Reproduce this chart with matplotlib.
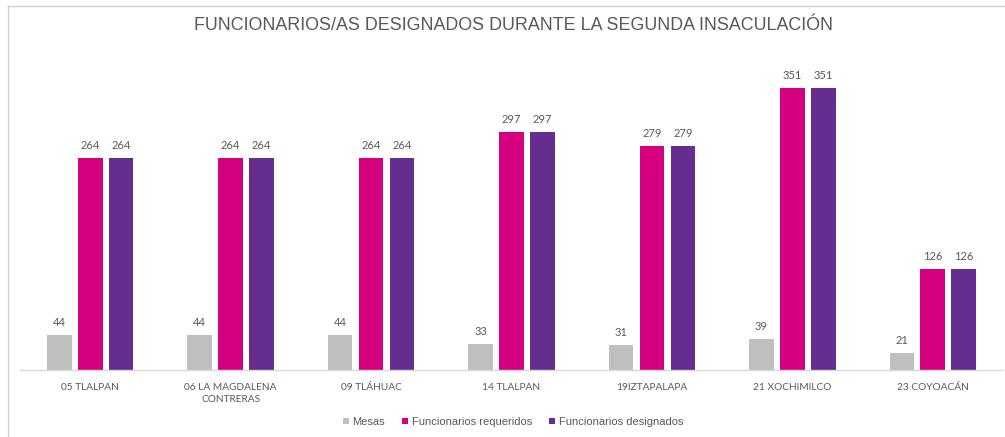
import matplotlib
matplotlib.use("Agg")
import matplotlib.pyplot as plt
from matplotlib.lines import Line2D
import numpy as np

categories = ["05 TLALPAN", "06 LA MAGDALENA\nCONTRERAS", "09 TLÁHUAC", "14 TLALPAN",
              "19IZTAPALAPA", "21 XOCHIMILCO", "23 COYOACÁN"]
mesas = [44, 44, 44, 33, 31, 39, 21]
requeridos = [264, 264, 264, 297, 279, 351, 126]
designados = [264, 264, 264, 297, 279, 351, 126]
series_names = ["Mesas", "Funcionarios requeridos", "Funcionarios designados"]
colors = ["#BFBFBF", "#D5007F", "#662D91"]

W, H = 1005, 437
fig = plt.figure(figsize=(W / 100, H / 100), dpi=100)
ax = fig.add_axes([20 / W, (H - 370) / H, (1003 - 20) / W, (370 - 49) / H])

x = np.arange(len(categories))
bw = 0.175
step = 0.22
for i, (vals, c, name) in enumerate(zip([mesas, requeridos, designados], colors, series_names)):
    bars = ax.bar(x + (i - 1) * step, vals, width=bw, color=c, label=name)
    for b, v in zip(bars, vals):
        ax.annotate(str(v), (b.get_x() + b.get_width() / 2, v), xytext=(0, 5),
                    textcoords="offset points", ha="center", va="bottom",
                    fontsize=8, color="#595959", family="Lato")

ax.set_xlim(-0.5, len(categories) - 0.5)
ax.set_ylim(0, 400)
ax.set_yticks([])
for s in ["top", "right", "left"]:
    ax.spines[s].set_visible(False)
ax.spines["bottom"].set_color("#D9D9D9")
ax.spines["bottom"].set_linewidth(1.0)
ax.set_xticks(x)
ax.set_xticklabels(categories, fontsize=7.3, color="#595959", family="Lato", linespacing=1.55)
ax.tick_params(axis="x", length=0, pad=9)

fig.text(513 / W, 1 - 25 / H, "FUNCIONARIOS/AS DESIGNADOS DURANTE LA SEGUNDA INSACULACIÓN",
         ha="center", va="center", fontsize=12.9, color="#595959", family="Liberation Sans")

leg = fig.legend(loc="center", bbox_to_anchor=(513 / W, 1 - 422 / H), ncol=3, frameon=False,
                 prop={"family": "Liberation Sans", "size": 8}, labelcolor="#595959",
                 handlelength=0.55, handleheight=0.55, handletextpad=0.3, columnspacing=1.55)

fig.add_artist(Line2D([8 / W, 1004 / W], [1 - 6 / H, 1 - 6 / H], color="#D0D0D0", lw=1.0,
                      transform=fig.transFigure))
fig.add_artist(Line2D([8 / W, 8 / W], [0, 1 - 6 / H], color="#D0D0D0", lw=1.0,
                      transform=fig.transFigure))

fig.savefig("out.png", dpi=100)
